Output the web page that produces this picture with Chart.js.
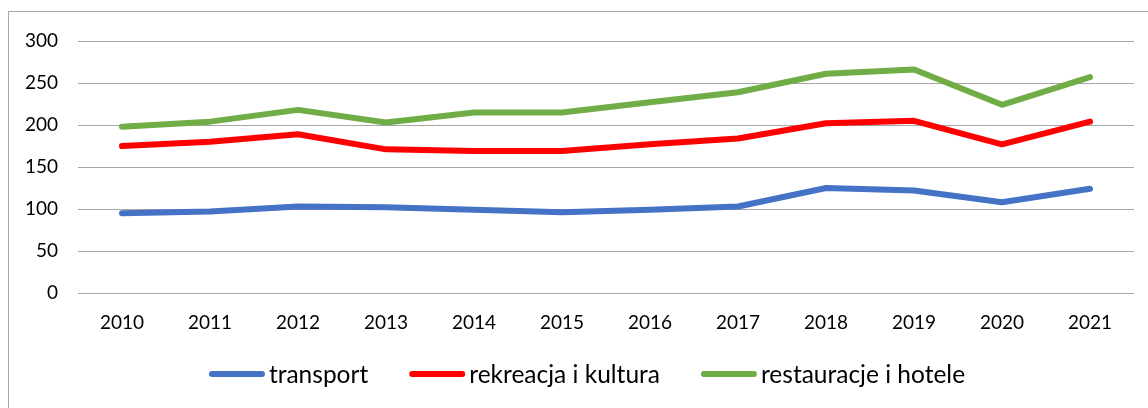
<!DOCTYPE html>
<html lang="pl">
<head>
    <meta charset="UTF-8">
    <title>Wydatki</title>
    <script src="https://cdn.jsdelivr.net/npm/chart.js"></script>
    <style>
        html, body {
            margin: 0;
            padding: 0;
            width: 1148px;
            height: 408px;
            overflow: hidden;
            background: #ffffff;
        }
        .frame {
            position: absolute;
            left: 8px;
            top: 11px;
            width: 1200px;
            height: 500px;
            border: 1px solid #a6a6a6;
        }
        .wrap {
            position: absolute;
            left: 0;
            top: 0;
            width: 1148px;
            height: 408px;
        }
    </style>
</head>
<body>
    <div class="frame"></div>
    <div class="wrap">
        <canvas id="chart"></canvas>
    </div>

    <script>
        const years = ["2010", "2011", "2012", "2013", "2014", "2015", "2016", "2017", "2018", "2019", "2020", "2021"];
        const transport = [95, 97, 103, 102, 99, 96, 99, 103, 125, 122, 108, 124];
        const rekreacja = [175, 180, 189, 171, 169, 169, 177, 184, 202, 205, 177, 204];
        const restauracje = [198, 204, 218, 203, 215, 215, 227, 239, 261, 266, 224, 257];
        const seriesNames = ["transport", "rekreacja i kultura", "restauracje i hotele"];
        const yTicks = [0, 50, 100, 150, 200, 250, 300];

        const colors = ["#4472C4", "#FF0000", "#70AD47"];
        const fontFamily = "Lato, 'Open Sans', sans-serif";

        function lineSet(label, data, color) {
            return {
                label: label,
                data: data,
                borderColor: color,
                backgroundColor: color,
                borderWidth: 6,
                borderCapStyle: "round",
                borderJoinStyle: "round",
                pointRadius: 0,
                pointHoverRadius: 0,
                tension: 0,
                fill: false
            };
        }

        // legenda rysowana recznie, zeby odstepy byly jak w Excelu
        const bottomLegend = {
            id: "bottomLegend",
            afterDraw(chart) {
                const ctx = chart.ctx;
                const sets = chart.data.datasets;
                const lineLen = 56, gapText = 4, gapItem = 41;
                const y = 374;
                ctx.save();
                ctx.font = "24.5px " + fontFamily;
                ctx.textBaseline = "middle";
                ctx.textAlign = "left";
                let widths = sets.map(ds => lineLen + gapText + ctx.measureText(ds.label).width);
                let total = widths.reduce((a, b) => a + b, 0) + gapItem * (sets.length - 1);
                let x = 587 - total / 2;
                sets.forEach((ds, i) => {
                    ctx.strokeStyle = ds.borderColor;
                    ctx.lineWidth = 6;
                    ctx.lineCap = "round";
                    ctx.beginPath();
                    ctx.moveTo(x + 3, y);
                    ctx.lineTo(x + lineLen - 3, y);
                    ctx.stroke();
                    ctx.fillStyle = "#000000";
                    ctx.fillText(ds.label, x + lineLen + gapText, y + 1);
                    x += widths[i] + gapItem;
                });
                ctx.restore();
            }
        };

        new Chart(document.getElementById("chart"), {
            type: "line",
            data: {
                labels: years,
                datasets: [
                    lineSet(seriesNames[0], transport, colors[0]),
                    lineSet(seriesNames[1], rekreacja, colors[1]),
                    lineSet(seriesNames[2], restauracje, colors[2])
                ]
            },
            options: {
                responsive: true,
                maintainAspectRatio: false,
                animation: false,
                layout: {
                    padding: { left: 0, right: 14, top: 41, bottom: 0 }
                },
                plugins: {
                    legend: { display: false },
                    tooltip: { enabled: false }
                },
                scales: {
                    x: {
                        offset: true,
                        grid: { display: false },
                        border: { display: false },
                        ticks: {
                            color: "#000000",
                            padding: 10,
                            maxRotation: 0,
                            font: { family: fontFamily, size: 19 }
                        },
                        afterFit(scale) { scale.height = 115; }
                    },
                    y: {
                        min: 0,
                        max: 300,
                        afterBuildTicks(scale) {
                            scale.ticks = yTicks.map(v => ({ value: v }));
                        },
                        grid: {
                            color: "#a6a6a6",
                            lineWidth: 1,
                            drawTicks: false
                        },
                        border: { display: false },
                        ticks: {
                            color: "#000000",
                            padding: 20,
                            font: { family: fontFamily, size: 19 }
                        },
                        afterFit(scale) { scale.width = 78; }
                    }
                }
            },
            plugins: [bottomLegend]
        });
    </script>
</body>
</html>
